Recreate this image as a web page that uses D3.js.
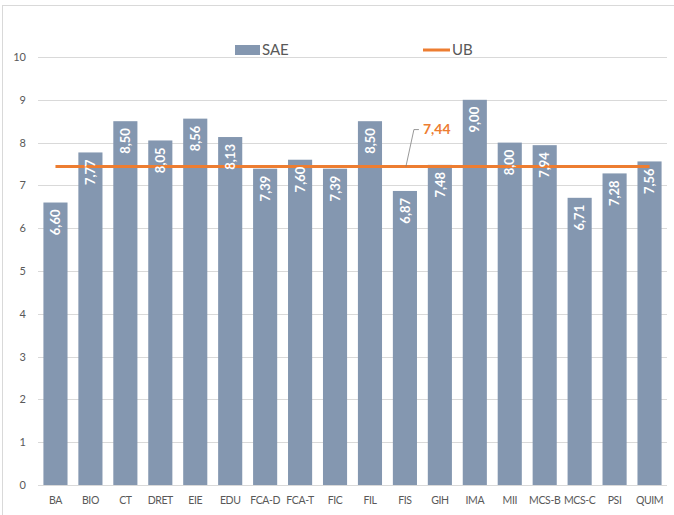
<!DOCTYPE html>
<html lang="en">
<head>
<meta charset="UTF-8">
<title>SAE vs UB</title>
<script src="https://d3js.org/d3.v7.min.js"></script>
<style>
  body { margin: 0; background: #fff; }
  svg text { font-family: Lato, "Open Sans", sans-serif; }
  .xlab text { letter-spacing: -0.4px; }
</style>
</head>
<body>
<div id="chart"></div>
<script>
// data
var categories = ["BA","BIO","CT","DRET","EIE","EDU","FCA-D","FCA-T","FIC","FIL","FIS","GIH","IMA","MII","MCS-B","MCS-C","PSI","QUIM"];
var saeValues = [6.60, 7.77, 8.50, 8.05, 8.56, 8.13, 7.39, 7.60, 7.39, 8.50, 6.87, 7.48, 9.00, 8.00, 7.94, 6.71, 7.28, 7.56];
var ubValue = 7.44;
var yTicks = [0, 1, 2, 3, 4, 5, 6, 7, 8, 9, 10];

var W = 674, H = 515;
var margin = {top: 57, right: 7, bottom: 30, left: 38};
var width = W - margin.left - margin.right,
    height = H - margin.top - margin.bottom;

var barColor = "#8497b0", lineColor = "#ed7d31", textColor = "#595959";

var fmt = function(v) { return d3.format(".2f")(v).replace(".", ","); };

var svg = d3.select("#chart").append("svg")
    .attr("width", W)
    .attr("height", H);

// chart frame
svg.append("rect")
    .attr("x", 2.5).attr("y", 5.5)
    .attr("width", 700).attr("height", 600)
    .attr("fill", "none")
    .attr("stroke", "#d9d9d9");

var g = svg.append("g")
    .attr("transform", "translate(" + margin.left + "," + margin.top + ")");

var x = d3.scaleBand()
    .domain(categories)
    .range([0, width])
    .paddingInner(0.31)
    .paddingOuter(0.155);

var y = d3.scaleLinear()
    .domain([0, 10])
    .range([height, 0]);

// gridlines
g.append("g")
    .selectAll("line")
    .data(yTicks)
  .enter().append("line")
    .attr("x1", 0).attr("x2", width)
    .attr("y1", function(d) { return Math.round(y(d)) + 0.5; })
    .attr("y2", function(d) { return Math.round(y(d)) + 0.5; })
    .attr("stroke", "#d9d9d9");

// y axis labels
var yAxis = d3.axisLeft(y).tickValues(yTicks).tickSize(0).tickPadding(12);
g.append("g")
    .call(yAxis)
    .call(function(a) { a.select(".domain").remove(); })
    .selectAll("text")
    .style("font-size", "11px")
    .attr("fill", textColor);

// x axis labels
var xAxis = d3.axisBottom(x).tickSize(0).tickPadding(12);
g.append("g")
    .attr("class", "xlab")
    .attr("transform", "translate(0," + height + ")")
    .call(xAxis)
    .call(function(a) { a.select(".domain").remove(); })
    .selectAll("text")
    .style("font-size", "10.5px")
    .attr("fill", textColor);

// bars
var data = categories.map(function(c, i) { return {cat: c, value: saeValues[i]}; });

g.selectAll(".bar")
    .data(data)
  .enter().append("rect")
    .attr("class", "bar")
    .attr("x", function(d) { return x(d.cat); })
    .attr("width", x.bandwidth())
    .attr("y", function(d) { return y(d.value); })
    .attr("height", function(d) { return height - y(d.value); })
    .attr("fill", barColor);

// UB line
var cx = function(c) { return x(c) + x.bandwidth() / 2; };
g.append("line")
    .attr("x1", cx(categories[0]))
    .attr("x2", cx(categories[categories.length - 1]))
    .attr("y1", y(ubValue))
    .attr("y2", y(ubValue))
    .attr("stroke", lineColor)
    .attr("stroke-width", 3);

// bar value labels
g.selectAll(".val")
    .data(data)
  .enter().append("text")
    .attr("class", "val")
    .attr("transform", function(d) {
      return "translate(" + cx(d.cat) + "," + (y(d.value) + 7) + ") rotate(-90)";
    })
    .attr("dy", "0.36em")
    .attr("text-anchor", "end")
    .style("font-size", "13px")
    .style("font-weight", "bold")
    .attr("fill", "#fff")
    .text(function(d) { return fmt(d.value); });

// UB callout
var px = cx("FIS") + 1, py = y(ubValue);
g.append("polyline")
    .attr("points", [[px, py], [px + 8, py - 37], [px + 13, py - 37]].join(" "))
    .attr("fill", "none")
    .attr("stroke", "#7f7f7f")
    .attr("stroke-width", 0.8);
g.append("text")
    .attr("x", px + 17)
    .attr("y", py - 37)
    .attr("dy", "0.35em")
    .style("font-size", "14px")
    .style("font-weight", "bold")
    .attr("fill", lineColor)
    .text(fmt(ubValue));

// legend
var legend = svg.append("g").attr("transform", "translate(235,50)");
legend.append("rect")
    .attr("x", 0).attr("y", -5)
    .attr("width", 25).attr("height", 10)
    .attr("fill", barColor);
legend.append("text")
    .attr("x", 27).attr("dy", "0.35em")
    .style("font-size", "15px")
    .attr("fill", textColor)
    .text("SAE");
legend.append("line")
    .attr("x1", 188).attr("x2", 215)
    .attr("stroke", lineColor)
    .attr("stroke-width", 3);
legend.append("text")
    .attr("x", 217).attr("dy", "0.35em")
    .style("font-size", "15px")
    .attr("fill", textColor)
    .text("UB");
</script>
</body>
</html>
